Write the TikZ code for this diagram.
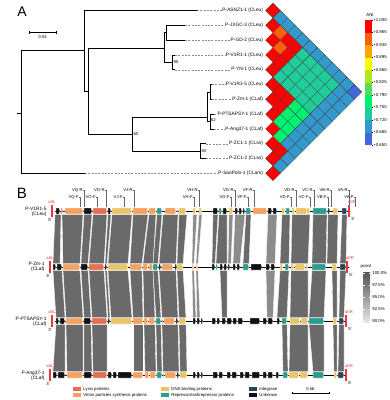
\documentclass[tikz,border=0pt]{standalone}
\usepackage{fontspec}
\setmainfont{Liberation Sans}
\definecolor{hr}{HTML}{FF0000}
\definecolor{hor}{HTML}{FF6010}
\definecolor{ho}{HTML}{FFA500}
\definecolor{hy}{HTML}{FFFF00}
\definecolor{hyg}{HTML}{B5E61D}
\definecolor{hlg}{HTML}{55DD55}
\definecolor{hbg}{HTML}{00F070}
\definecolor{htg}{HTML}{20CC99}
\definecolor{hsb}{HTML}{3399CC}
\definecolor{hrb}{HTML}{4466DD}
\definecolor{lys}{HTML}{E76F51}
\definecolor{vir}{HTML}{F4A261}
\definecolor{dna}{HTML}{E9C46A}
\definecolor{rep}{HTML}{2A9D8F}
\definecolor{int}{HTML}{264653}
\definecolor{unk}{HTML}{111111}
\definecolor{bandc}{HTML}{6A6A6A}
\definecolor{bandl}{HTML}{8C8C8C}
\definecolor{attred}{HTML}{E8363C}
\newcommand\hcell[3]{%
  \pgfmathsetmacro\cx{273+(#2-#1)*7.4}%
  \pgfmathsetmacro\cy{10.5+14.8*#1+(#2-#1)*7.4}%
  \filldraw[fill=#3,draw=black!75,line width=0.25pt] (\cx-7.4,\cy) -- (\cx,\cy-7.4) -- (\cx+7.4,\cy) -- (\cx,\cy+7.4) -- cycle;}
\newcommand\genes[2]{\foreach \a/\b/\c in {#2}{\filldraw[fill=\c,draw=white,line width=0.2pt] (\a,#1-3) -- (\b-1,#1-3) -- (\b,#1) -- (\b-1,#1+3) -- (\a,#1+3) -- cycle;}}
\newcommand\bands[4][bandc]{\foreach \a/\b/\c/\d in {#4}{\filldraw[fill=#1,draw=white,line width=0.3pt] (\a,#2) -- (\b,#2) -- (\d,#3) -- (\c,#3) -- cycle;}}
\begin{document}
\begin{tikzpicture}[x=1pt,y=-1pt,
  lbl/.style={font=\fontsize{4.8}{5.6}\selectfont,inner sep=0.3pt},
  prim/.style={font=\fontsize{4.2}{5}\selectfont,inner sep=0.2pt},
  small/.style={font=\fontsize{4.3}{5}\selectfont,inner sep=0.2pt},
  tr/.style={line width=0.7pt},
  dl/.style={black!45,line width=0.4pt,dash pattern=on 2pt off 1.3pt},
  lead/.style={black!60,line width=0.3pt},
  boot/.style={font=\fontsize{4.2}{5}\selectfont,inner sep=0pt,anchor=west},
  attl/.style={font=\fontsize{4.2}{5}\selectfont,inner sep=0pt,text=attred}]
\useasboundingbox (0,0) rectangle (390,400);
% ---------- Panel A ----------
\node[font=\fontsize{14}{14}\selectfont,inner sep=0pt] (pa) at (22,12) {A};
\draw[line width=0.5pt] (29,32) -- (56,32) (29,30.5) -- (29,33.5) (56,30.5) -- (56,33.5);
\node[small] (sb) at (42.5,37) {0.04};
% leaf labels
\foreach \i/\t in {0/P-ASNZ1-1 (CLeu),1/P-JXGC-3 (CLeu),2/P-GD-2 (CLeu),3/P-V1R1-1 (CLeu),4/P-YN-1 (CLeu),5/P-V1R1-5 (CLeu),6/P-Zm-1 (CLaf),7/P-PTSAPSY-1 (CLaf),8/P-Ang37-1 (CLaf),9/P-ZC1-1 (CLso),10/P-ZC1-2 (CLso),11/P-SaoPolo-1 (CLam)}
  {\node[lbl,anchor=east] (L\i) at (263.5,10.5+14.8*\i) {\t};}
% tree
\draw[tr] (17,113) -- (21,113) (21,50) -- (21,173.3);
\draw[tr] (21,50) -- (84,50) (84,10.5) -- (84,91) (84,91) -- (88,91);
\draw[tr] (88,48) -- (88,134) (88,48) -- (164,48) (164,32.7) -- (164,62.3);
\draw[tr] (164,32.7) -- (166,32.7) (166,25.3) -- (166,40.1) (172,54.9) -- (172,69.7) (164,62.3) -- (172,62.3);
\draw[tr] (88,134) -- (132,134) (132,117) -- (132,151.1) (132,117) -- (207,117) (207,91.9) -- (207,121.5);
\draw[tr] (207,91.9) -- (210,91.9) (210,84.5) -- (210,99.3) (207,121.5) -- (210,121.5) (210,114.1) -- (210,128.9);
\draw[tr] (132,151.1) -- (200,151.1) (200,143.7) -- (200,158.5);
\foreach \i/\s/\e in {0/84/197,1/166/185,2/166/185,3/172/175,4/172/175,5/210/212,6/210/212,7/210/214,8/210/214,9/200/206,10/200/206,11/21/85}
  {\draw[tr] (\s,10.5+14.8*\i) coordinate (s\i) -- (\e,10.5+14.8*\i) coordinate (e\i);
   \draw[dl] (e\i) -- (L\i.west);}
\node[boot] (b95) at (173.5,62.3) {95};
\node[boot] (b60a) at (133.5,134) {60};
\node[boot] (b62) at (210.8,120) {62};
\node[boot] (b60b) at (201.5,151.1) {60};
% heatmap
\foreach \i in {0,...,11} {\hcell{\i}{\i}{hr}}
\foreach \j in {1,...,10} {\hcell{0}{\j}{hsb}}
\hcell{0}{11}{hrb}
\hcell{1}{2}{hor}\hcell{2}{3}{hor}\hcell{1}{3}{hr}\hcell{1}{4}{hr}\hcell{2}{4}{hr}\hcell{3}{4}{hr}
\foreach \i in {1,...,4}{\foreach \j in {5,...,9}{\hcell{\i}{\j}{htg}}\hcell{\i}{10}{hsb}\hcell{\i}{11}{hsb}}
\hcell{5}{6}{hr}\hcell{5}{7}{hr}\hcell{6}{7}{hr}
\foreach \i in {5,...,8}{\hcell{\i}{9}{hbg}\hcell{\i}{10}{hsb}\hcell{\i}{11}{hsb}}
\foreach \i in {5,6,7}{\hcell{\i}{8}{hbg}}
\hcell{9}{10}{hr}\hcell{9}{11}{hsb}\hcell{10}{11}{hsb}
% colour bar
\node[small] (ani) at (370,15) {ANI};
\foreach \k/\c/\v in {0/hr/+1.000,1/hor/+0.965,2/ho/+0.930,3/hy/+0.895,4/hyg/+0.860,5/hlg/+0.825,6/hbg/+0.790,7/htg/+0.755,8/hsb/+0.720,9/hrb/+0.685}
  {\fill[\c] (365,20+12.5*\k) rectangle (372,32.5+12.5*\k);
   \draw[line width=0.3pt] (372,20+12.5*\k) -- (373,20+12.5*\k);
   \node[small,anchor=west] at (373,20+12.5*\k) {\v};}
\draw[line width=0.3pt] (372,145) -- (373,145);
\node[small,anchor=west] at (373,145) {+0.650};
% ---------- Panel B ----------
\node[font=\fontsize{15}{15}\selectfont,inner sep=0pt] (pb) at (22,193) {B};
% bands 1-2
\bands{214.5}{263.5}{55/61/53/60,62/83/63/80,84/92/81/88,93/107/89/104,108/111/105/107,112/132/108/128,133/148/130/142,149/156/143/153,157/162/153/158,163/178/159/176,179/187/177/183,213/218/212/215,219/227/216/227,246/251/243/249,282/290/280/289,292/310/291/308,313/327/312/326,328/338/327/337,342/347/340/346}
\bands[bandl]{214.5}{263.5}{193/197/192/194,199/202/196/198,229/233/228/231,235/245/233/240,268/277/266/275}
% bands 2-3
\bands{270.5}{317.5}{53/62/56/65,63/80/66/83,81/88/84/91,89/104/92/107,105/107/108/110,108/128/111/132,130/142/133/143,143/153/144/155,153/158/156/161,159/176/162/178,177/183/179/186,220/227/222/227,280/289/277/287,291/308/290/308,312/326/309/324,332/337/333/337,340/346/339/344}
\bands[bandl]{270.5}{317.5}{192/194/193/196,196/198/197/200,266/275/267/273}
% bands 3-4
\bands{324.5}{371.5}{56/65/53/65,66/83/67/83,84/91/84/92,92/107/93/107,133/143/133/143,144/155/145/156,156/161/157/162,162/178/163/179,179/186/180/187,282/287/283/288,290/308/289/308,309/324/313/324,333/337/334/337,339/344/338/344}
% track lines
\draw[line width=0.5pt] (55,211) -- (350,211) (53,267) -- (349,267) (55,321) -- (346,321) (53,375) -- (347,375);
% genes
\genes{211}{56/60/unk,61/63/lys,65/83/vir,84/92/unk,93/107/lys,108/111/unk,112/132/dna,133/148/vir,149/156/vir,157/162/rep,165/176/vir,177/178/unk,179/186/dna,193/196/dna,199/202/dna,213/218/unk,219/222/rep,223/227/unk,229/233/dna,235/238/unk,239/242/unk,243/245/unk,246/251/rep,253/267/vir,268/272/unk,273/277/unk,282/285/dna,286/290/rep,292/295/dna,296/307/dna,307/310/dna,313/327/rep,328/330/unk,333/338/dna,342/347/int}
\genes{267}{53/56/unk,57/62/unk,63/80/vir,81/88/unk,89/104/lys,105/107/unk,108/128/dna,130/142/vir,143/148/vir,149/153/vir,153/158/rep,159/161/unk,162/173/vir,175/177/unk,177/183/dna,192/194/dna,196/198/dna,212/215/unk,216/218/rep,220/223/unk,224/227/unk,228/230/unk,233/236/unk,237/240/unk,243/249/rep,251/262/unk,266/270/unk,271/275/unk,280/283/dna,285/289/rep,291/294/dna,295/305/dna,306/308/dna,312/326/rep,332/337/dna,340/346/int}
\genes{321}{56/59/unk,60/65/unk,66/83/vir,84/91/unk,92/107/lys,108/110/unk,111/132/dna,133/143/vir,144/148/vir,149/155/vir,156/161/rep,162/163/unk,164/175/vir,176/178/unk,179/186/dna,193/196/unk,197/200/unk,201/203/unk,212/216/unk,217/220/unk,222/226/unk,227/232/unk,233/237/unk,238/243/unk,250/260/unk,263/267/unk,268/273/unk,277/280/unk,282/287/rep,290/300/dna,301/308/dna,309/324/rep,333/337/dna,339/344/int}
\genes{375}{53/57/unk,58/65/unk,67/83/vir,84/92/unk,93/107/lys,108/112/unk,113/117/unk,118/132/unk,133/143/vir,145/149/vir,150/156/vir,157/162/rep,163/164/unk,165/176/vir,177/179/unk,180/187/dna,193/196/unk,197/200/unk,201/203/unk,213/218/unk,219/223/unk,227/231/unk,232/237/unk,240/244/unk,245/250/unk,252/260/unk,263/267/unk,268/273/unk,276/279/unk,283/288/rep,289/299/dna,300/308/dna,313/324/rep,334/337/dna,338/344/int}
% genome labels
\node[lbl,anchor=east,align=right] (g1) at (47,212) {P-V1R1-5\\(CLeu)};
\node[lbl,anchor=east,align=right] (g2) at (45,267) {P-Zm-1\\(CLaf)};
\node[lbl,anchor=east,align=right] (g3) at (47,322) {P-PTSAPSY-1\\(CLaf)};
\node[lbl,anchor=east,align=right] (g4) at (45,376) {P-Ang37-1\\(CLaf)};
% att sites
\foreach \x/\y/\e/\lab in {52/211/5'/attL,50/267/3'/attL,52/321/3'/attL,50/375/3'/attL}
  {\fill[attred] (\x-0.7,\y-6) rectangle (\x+0.7,\y+6);
   \node[attl] at (\x,\y-9) {\lab};
   \node[small] at (\x-2,\y+9) {\e};}
\foreach \x/\y/\e/\lab in {349/211/3'/attR,347/267/5'/attR,346/321/5'/attR,346/375/5'/attR}
  {\fill[attred] (\x-0.7,\y-6) rectangle (\x+0.7,\y+6);
   \node[attl] at (\x+3,\y-9) {\lab};
   \node[small] at (\x+4,\y+8) {\e};}
% primers
\foreach \n/\x in {VQ-R/78,VO-R/100,VJ-R/128,VH-R/193,VG-R/229,VF-R/248,VD-R/290,VC-R/308,VB-R/325,VA-R/343}
  {\node[prim,anchor=east] (p\x) at (\x+5,190) {\n};
   \draw[lead] (p\x.east) -- ++(1,0) -- ++(0,17);}
\foreach \n/\x in {VQ-F/74,VO-F/91,VJ-F/118,VH-F/188,VG-F/225,VF-F/242,VD-F/285,VC-F/304,VB-F/322,VA-F/349}
  {\node[prim,anchor=east] (q\x) at (\x+5,197) {\n};
   \draw[lead] (q\x.east) -- ++(1,0) -- ++(0,10);}
% pcent legend
\node[small] (pc) at (366,267) {pcent};
\shade[top color=black!68,bottom color=black!10] (363,272) rectangle (370,322);
\foreach \k/\v in {0/100.0\%,1/97.5\%,2/95.0\%,3/92.5\%,4/90.0\%}
  {\draw[white,line width=0.3pt] (363,273+12*\k) -- (364.5,273+12*\k) (368.5,273+12*\k) -- (370,273+12*\k);
   \node[small,anchor=west] at (372,273+12*\k) {\v};}
% legend
\foreach \x/\y/\c/\t in {73/389/lys/{Lysis proteins},73/395/vir/{Virion particles synthesis proteins},161/389/dna/{DNA binding proteins},161/395/rep/{Repressor/antirepressor proteins},249/389/int/{Integrase},249/395/unk/{Unknown}}
  {\fill[\c] (\x,\y-1.8) rectangle (\x+8,\y+1.8);
   \node[small,anchor=west] at (\x+10,\y) {\t};}
\draw[line width=0.4pt] (292,393) -- (329,393) (292,391.8) -- (292,394.2) (329,391.8) -- (329,394.2);
\node[small] (kb) at (310.5,389) {5 kb};
\end{tikzpicture}
\end{document}
